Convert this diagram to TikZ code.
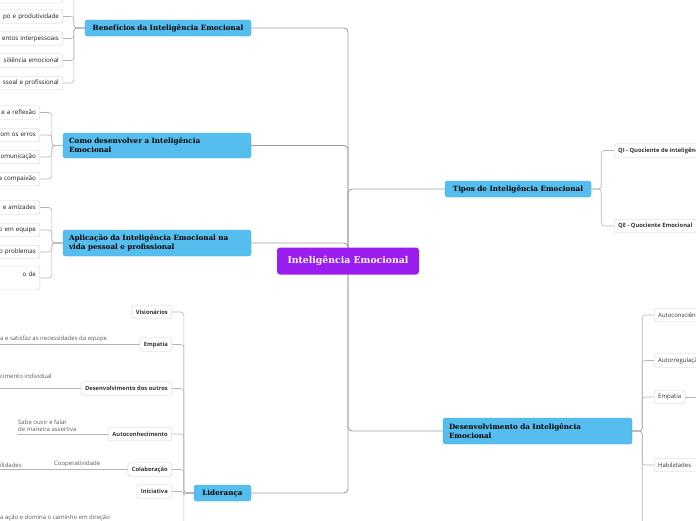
\documentclass[tikz,border=0pt]{standalone}
\usepackage{fontspec}
\usepackage{tikz}
\usetikzlibrary{positioning,backgrounds}
\newfontfamily\topicfont{DejaVu Serif}
\newfontfamily\leaffont{Open Sans}
\definecolor{rootpurple}{HTML}{9B1EF0}
\definecolor{topicblue}{HTML}{55BEEE}
\definecolor{topicedge}{HTML}{40ABE2}
\definecolor{leafedge}{HTML}{CFCFCF}
\definecolor{linkgray}{HTML}{B4B4B4}
\definecolor{trunkgray}{HTML}{A0A0A0}
\tikzset{
  root/.style  ={rectangle, rounded corners=3pt, fill=rootpurple, text=white, font=\topicfont\bfseries\fontsize{9.3}{10}\selectfont, minimum width=142pt, minimum height=27pt, inner sep=0pt},
  topic/.style ={rectangle, rounded corners=2.5pt, draw=topicedge, fill=topicblue, font=\topicfont\bfseries\fontsize{7.2}{9}\selectfont, inner xsep=6pt, inner ysep=0pt, align=left},
  leaf/.style  ={rectangle, rounded corners=2.5pt, draw=leafedge, fill=white, font=\leaffont\fontsize{6}{7}\selectfont, text=black!80, minimum height=13.5pt, inner xsep=4pt, inner ysep=0pt},
  leafb/.style ={leaf, font=\leaffont\bfseries\fontsize{5.8}{7}\selectfont},
  cutl/.style  ={text width=90pt, align=right, text=black!90, font=\leaffont\fontsize{6.2}{7}\selectfont},
  cutr/.style  ={text width=60pt, align=left},
  note/.style  ={font=\leaffont\fontsize{6}{7.5}\selectfont, text=black!65, inner xsep=1pt, inner ysep=2.2pt, align=left},
  link/.style  ={draw=linkgray, line width=0.6pt, rounded corners=3pt},
  trunk/.style ={draw=trunkgray, line width=0.9pt, rounded corners=4pt},
}

\begin{document}
\begin{tikzpicture}[x=1pt, y=-1pt]
  \useasboundingbox (0,0) rectangle (696,520);

  % root and main topics
  \node[root] (ie) at (348,261) {Inteligência Emocional};
  \node[topic, minimum width=166pt, minimum height=16pt] (ben) at (168,28) {Benefícios da Inteligência Emocional};
  \node[topic, text width=176pt, minimum height=25pt] (como) at (157,145.5) {Como desenvolver a Inteligência\\Emocional};
  \node[topic, text width=176pt, minimum height=26pt] (apl) at (157,243) {Aplicação da Inteligência Emocional na\\vida pessoal e profissional};
  \node[topic, minimum width=57pt, minimum height=16pt] (lid) at (222.5,493) {Liderança};
  \node[topic, minimum width=146pt, minimum height=16pt] (tip) at (518,189) {Tipos de Inteligência Emocional};
  \node[topic, text width=177pt, minimum height=26pt] (dsv) at (537.5,431) {Desenvolvimento da Inteligência\\Emocional};

  % left edge, cut by the page
  \node[leaf, cutl, anchor=east, minimum height=14pt] (b0) at (63,-4) {};
  \node[leaf, cutl, anchor=east] (b1) at (63,16.5) {po e produtividade};
  \node[leaf, cutl, anchor=east] (b2) at (63,38.5) {entos interpessoais};
  \node[leaf, cutl, anchor=east] (b3) at (63,60.5) {siliência emocional};
  \node[leaf, cutl, anchor=east] (b4) at (63,83) {ssoal e profissional};

  \node[leaf, cutl, anchor=east] (c1) at (40,112.5) {e a reflexão};
  \node[leaf, cutl, anchor=east] (c2) at (40,135) {com os erros};
  \node[leaf, cutl, anchor=east] (c3) at (40,157) {omunicação};
  \node[leaf, cutl, anchor=east] (c4) at (40,179) {a compaixão};

  \node[leaf, cutl, anchor=east] (a1) at (40,207.5) {e amizades};
  \node[leaf, cutl, anchor=east] (a2) at (40,230) {o em equipe};
  \node[leaf, cutl, anchor=east] (a3) at (40,252) {o problemas};
  \node[leaf, cutl, anchor=east, minimum height=24pt] (a4) at (40,278) {o de\\\mbox{}};

  % Lideranca
  \node[leafb, anchor=east] (vis)   at (172,312)   {Visionários};
  \node[leafb, anchor=east] (ldemp) at (172,344.5) {Empatia};
  \node[leafb, anchor=east] (dout)  at (172,388.5) {Desenvolvimento dos outros};
  \node[leafb, anchor=east] (acon)  at (172,434)   {Autoconhecimento};
  \node[leafb, anchor=east] (colab) at (172,469.5) {Colaboração};
  \node[leafb, anchor=east] (inic)  at (172,491.5) {Iniciativa};
  \coordinate (lidnext) at (172,540);

  \node[note, anchor=south west] (nsat)  at (-1,344.5) {a e satisfaz as necessidades da equipe};
  \node[note, anchor=south west] (ncres) at (-1,388.5) {cimento individual\\\mbox{}};
  \node[note, anchor=south west] (nsabe) at (17,434)   {Sabe ouvir e falar\\de maneira assertiva};
  \node[note, anchor=south west] (ncoop) at (53,469.5) {Cooperatividade};
  \node[note, anchor=south west] (nhab)  at (-1,469.5) {ilidades};
  \node[note, anchor=south west] (nacao) at (-1,523)   {a ação e domina o caminho em direção};

  % right side
  \node[leafb, anchor=west] (qi) at (614,150.5) {QI - Quociente de inteligência};
  \node[leafb, anchor=west] (qe) at (614,226)   {QE - Quociente Emocional};

  \node[leaf, anchor=west] (aconsc) at (654,315)   {Autoconsciência};
  \node[leaf, anchor=west] (aureg)  at (654,360.5) {Autorregulação};
  \node[leaf, anchor=west] (dsemp)  at (654,397)   {Empatia};
  \node[leaf, cutr, anchor=west] (habil) at (654,465) {Habilidades};
  \coordinate (dsvnext) at (654,540);
  \coordinate (empnext) at (700,397);

  \begin{scope}[on background layer]
    \foreach \t in {ben,como,apl,lid} \draw[trunk] (ie.center) |- (\t.east);
    \foreach \t in {tip,dsv} \draw[trunk] (ie.center) |- (\t.west);

    \foreach \n in {b0,b1,b2,b3,b4} \draw[link] (ben.west) -- ++(-11,0) |- (\n.east);
    \foreach \n in {c1,c2,c3,c4} \draw[link] (como.west) -- ++(-11,0) |- (\n.east);
    \foreach \n in {a1,a2,a3,a4} \draw[link] (apl.west) -- ++(-11,0) |- (\n.east);
    \foreach \n in {vis,ldemp,dout,acon,colab,inic,lidnext} \draw[link] (lid.west) -- ++(-10,0) |- (\n);
    \foreach \n in {qi,qe} \draw[link] (tip.east) -- ++(10,0) |- (\n.west);
    \foreach \n in {aconsc,aureg,dsemp,habil,dsvnext} \draw[link] (dsv.east) -- ++(10,0) |- (\n);

    \draw[link] (ldemp.west) -- (nsat.south west);
    \draw[link] (dout.west) -- (ncres.south west);
    \draw[link] (acon.west) -- (nsabe.south west);
    \draw[link] (colab.west) -- (ncoop.south west) -- (nhab.south west);
    \draw[link] (dsemp.east) -- (empnext);
  \end{scope}
\end{tikzpicture}
\end{document}
